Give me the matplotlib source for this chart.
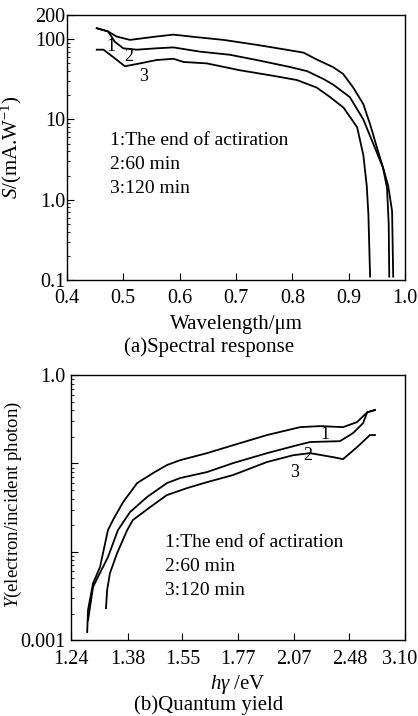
import numpy as np
import matplotlib
matplotlib.use("Agg")
import matplotlib.pyplot as plt
from matplotlib import ticker
from matplotlib.transforms import ScaledTranslation

plt.rcParams['font.family'] = ['Liberation Serif', 'DejaVu Serif']
plt.rcParams['mathtext.fontset'] = 'custom'
plt.rcParams['mathtext.rm'] = 'Liberation Serif'
plt.rcParams['mathtext.it'] = 'Liberation Serif:italic'

# (a) spectral response, wavelength in um, S in mA/W
lam1 = [0.453, 0.473, 0.488, 0.512, 0.559, 0.589, 0.630, 0.678, 0.737, 0.784, 0.820, 0.843,
        0.872, 0.890, 0.908, 0.926, 0.938, 0.950, 0.961, 0.970, 0.977, 0.979]
s1 = [137, 125, 108, 98, 108, 114, 106, 98, 85, 75, 68, 56,
      45, 37, 25, 15.5, 8.7, 4.5, 2.5, 1.5, 0.72, 0.11]
lam2 = [0.453, 0.473, 0.485, 0.500, 0.524, 0.559, 0.589, 0.636, 0.689, 0.737, 0.796, 0.826,
        0.855, 0.873, 0.902, 0.926, 0.944, 0.961, 0.968, 0.971, 0.972]
s2 = [137, 125, 93, 77, 74, 77, 79, 70, 64, 55, 45, 40,
      32, 27, 19, 10, 4.9, 2.5, 1.4, 0.5, 0.11]
lam3 = [0.453, 0.465, 0.482, 0.503, 0.530, 0.559, 0.589, 0.607, 0.648, 0.707, 0.766, 0.808,
        0.843, 0.867, 0.891, 0.915, 0.926, 0.932, 0.935, 0.938]
s3 = [74, 74, 60, 46, 50, 55, 57, 52, 50, 41, 35, 31,
      25, 19, 14, 8, 3.6, 1.5, 0.65, 0.11]

# (b) quantum yield, photon energy in eV
e1 = [1.277, 1.279, 1.291, 1.308, 1.328, 1.341, 1.368, 1.407, 1.454, 1.498, 1.542, 1.641,
      1.749, 1.914, 2.107, 2.244, 2.425, 2.550, 2.650, 2.731]
y1 = [0.00123, 0.0022, 0.0044, 0.0067, 0.0176, 0.0229, 0.0366, 0.060, 0.0778, 0.096, 0.109, 0.131,
      0.161, 0.21, 0.258, 0.265, 0.258, 0.294, 0.38, 0.403]
e2 = [1.279, 1.291, 1.303, 1.328, 1.354, 1.387, 1.436, 1.498, 1.542, 1.641, 1.749, 1.914,
      2.088, 2.173, 2.399, 2.513, 2.608, 2.650, 2.731]
y2 = [0.00168, 0.004, 0.0052, 0.0087, 0.0176, 0.0282, 0.0417, 0.060, 0.0684, 0.080, 0.101, 0.131,
      0.161, 0.175, 0.179, 0.221, 0.286, 0.38, 0.403]
e3 = [1.323, 1.326, 1.333, 1.352, 1.379, 1.395, 1.445, 1.498, 1.566, 1.641, 1.749, 1.914,
      2.063, 2.173, 2.343, 2.425, 2.550, 2.678, 2.731]
y3 = [0.0023, 0.0037, 0.0057, 0.0097, 0.0176, 0.0229, 0.032, 0.0439, 0.0526, 0.0615, 0.074, 0.104,
      0.124, 0.131, 0.118, 0.112, 0.153, 0.21, 0.21]
e_ticks = [1.24, 1.38, 1.55, 1.77, 2.07, 2.48, 3.10]

legend_lines = ['1:The end of actiration', '2:60 min', '3:120 min']

fig = plt.figure(figsize=(4.18, 7.16), dpi=100)
ax1 = fig.add_axes([0.160, 0.609, 0.809, 0.370])
ax2 = fig.add_axes([0.170, 0.106, 0.799, 0.370])

lw = 1.3
fs_tick = 14.5
fs_lab = 15
fs_leg = 14

# ---- panel (a)
for x, y in [(lam1, s1), (lam2, s2), (lam3, s3)]:
    ax1.plot(x, y, color='k', lw=lw)
ax1.set_yscale('log')
ax1.set_xlim(0.4, 1.0)
ax1.set_ylim(0.1, 200)
ax1.set_xticks(np.arange(0.4, 1.01, 0.1))
ax1.xaxis.set_major_formatter(ticker.FormatStrFormatter('%.1f'))
ax1.set_yticks([0.1, 1, 10, 100, 200])
ax1.set_yticklabels(['0.1', '1.0', '10', '100', '200'])
ax1.set_xlabel('Wavelength/\u03bcm', fontsize=fs_lab, labelpad=5)
ax1.set_ylabel('$\\it{S}$/(mA.W$^{-1}$)', fontsize=fs_lab)
ax1.yaxis.set_label_coords(-0.127, 0.5)
ax1.text(0.479, 81, '1', fontsize=13, ha='center', va='center')
ax1.text(0.509, 60, '2', fontsize=13, ha='center', va='center')
ax1.text(0.536, 34, '3', fontsize=13, ha='center', va='center')
for i, t in enumerate(legend_lines):
    ax1.text(0.127, 0.528 - i * 0.0906, t, transform=ax1.transAxes, fontsize=fs_leg, va='center')

# ---- panel (b): energy axis laid out linearly in wavelength (1/E)
for x, y in [(e1, y1), (e2, y2), (e3, y3)]:
    ax2.plot(x, y, color='k', lw=lw)
ax2.set_yscale('log')
ax2.set_xscale('function', functions=(lambda e: -1.0 / np.asarray(e), lambda v: -1.0 / np.asarray(v)))
ax2.set_xlim(1.24, 3.10)
ax2.set_ylim(0.001, 1.0)
ax2.set_xticks(e_ticks)
ax2.set_xticklabels(['%.2f' % v for v in e_ticks])
ax2.xaxis.set_minor_locator(ticker.NullLocator())
ax2.set_yticks([0.001, 0.01, 0.1, 1.0])
ax2.set_yticklabels(['0.001', '', '', '1.0'])
ax2.set_xlabel('$h\\gamma$ /eV', fontsize=fs_lab, labelpad=3)
ax2.set_ylabel('$\\it{Y}$(electron/incident photon)', fontsize=13.5)
ax2.yaxis.set_label_coords(-0.141, 0.51)
ax2.text(2.281, 0.215, '1', fontsize=13, ha='center', va='center')
ax2.text(2.16, 0.124, '2', fontsize=13, ha='center', va='center')
ax2.text(2.075, 0.080, '3', fontsize=13, ha='center', va='center')
for i, t in enumerate(legend_lines):
    ax2.text(0.281, 0.370 - i * 0.0906, t, transform=ax2.transAxes, fontsize=fs_leg, va='center')

for ax in (ax1, ax2):
    ax.tick_params(which='both', direction='in', labelsize=fs_tick)
    ax.tick_params(which='major', length=5)
    ax.tick_params(which='minor', length=2.5)
    for sp in ax.spines.values():
        sp.set_linewidth(1.0)
ax1.tick_params(axis='x', pad=6.5)
ax2.tick_params(axis='x', pad=7)
ax1.tick_params(axis='y', pad=1)
ax2.tick_params(axis='y', pad=4)

# keep the last energy label inside the figure
last = ax2.get_xticklabels()[-1]
last.set_transform(last.get_transform() + ScaledTranslation(-4 / 72, 0, fig.dpi_scale_trans))

fig.text(0.5, 1 - 347 / 716, '(a)Spectral response', ha='center', va='center', fontsize=fs_lab)
fig.text(0.5, 1 - 705 / 716, '(b)Quantum yield', ha='center', va='center', fontsize=fs_lab)

fig.savefig('out.png', dpi=100)
